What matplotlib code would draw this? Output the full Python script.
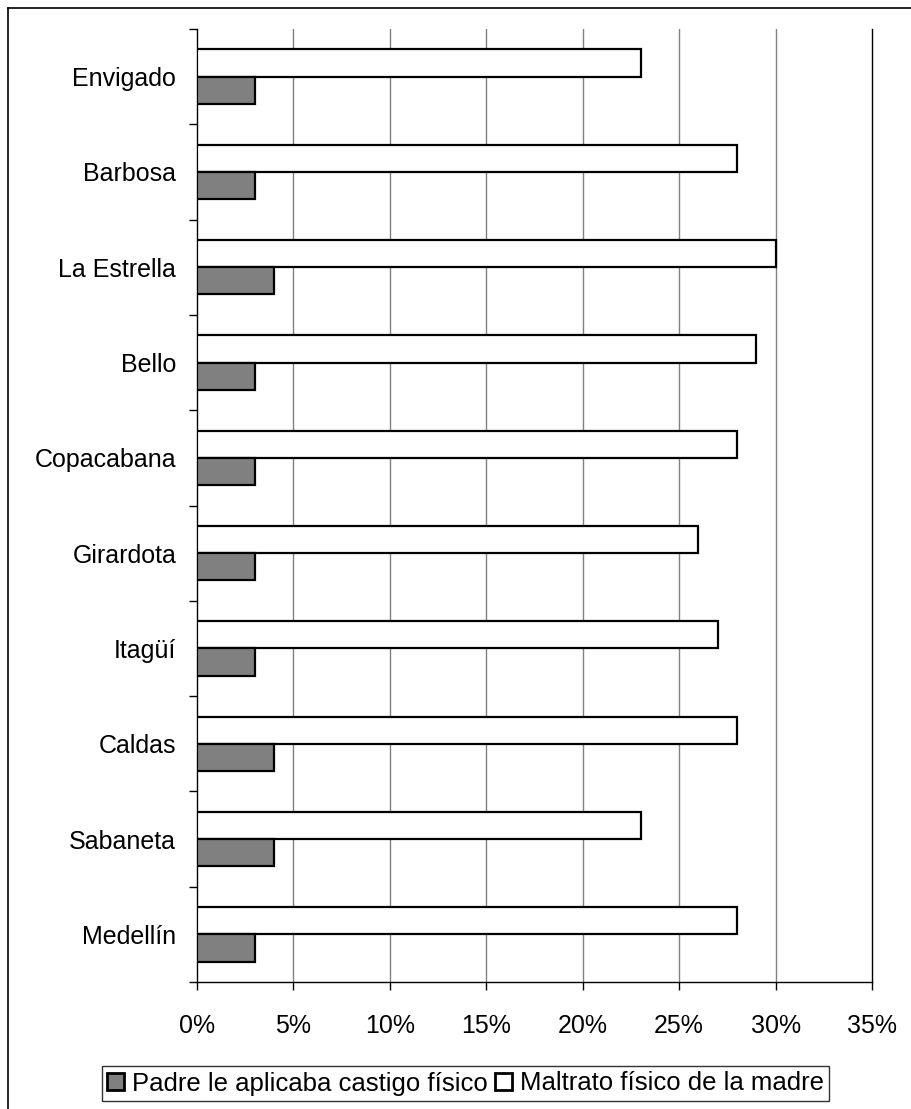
import matplotlib
matplotlib.use("Agg")
import matplotlib.pyplot as plt
from matplotlib.lines import Line2D
from matplotlib.ticker import FuncFormatter
import numpy as np

plt.rcParams['font.family'] = ['Liberation Sans', 'DejaVu Sans']

categories = ["Medellín", "Sabaneta", "Caldas", "Itagüí", "Girardota",
              "Copacabana", "Bello", "La Estrella", "Barbosa", "Envigado"]
padre = [3, 4, 4, 3, 3, 3, 3, 4, 3, 3]
madre = [28, 23, 28, 27, 26, 28, 29, 30, 28, 23]
series_names = ["Padre le aplicaba castigo físico", "Maltrato físico de la madre"]
xticks = [0, 5, 10, 15, 20, 25, 30, 35]

W, H = 911, 1109
FS = 18
fig = plt.figure(figsize=(W / 100, H / 100), dpi=100)
ax = fig.add_axes([197 / W, 1 - 982 / H, (872 - 197) / W, (982 - 29) / H])

y = np.arange(len(categories))
h = 1 / 3.5
ax.barh(y + h / 2, madre, height=h, color="white", edgecolor="black", linewidth=1.6,
        label=series_names[1], zorder=3)
ax.barh(y - h / 2, padre, height=h, color="#808080", edgecolor="black", linewidth=1.6,
        label=series_names[0], zorder=3)

ax.set_xlim(0, 35)
ax.set_ylim(-0.5, len(categories) - 0.5)

ax.set_xticks(xticks)
ax.xaxis.set_major_formatter(FuncFormatter(lambda v, p: f"{int(v)}%"))
ax.tick_params(axis='x', direction='out', length=6, width=1, labelsize=FS, pad=17)

ax.set_yticks(y)
ax.set_yticklabels(categories)
ax.tick_params(axis='y', which='major', length=0, labelsize=FS, pad=15)
ax.set_yticks(np.arange(-0.5, len(categories), 1), minor=True)
ax.tick_params(axis='y', which='minor', direction='out', length=6, width=1)

for xv in xticks[1:-1]:
    ax.axvline(xv, color="#808080", linewidth=1.0, zorder=1)

ax.spines["top"].set_visible(False)
ax.spines["right"].set_color("black")
ax.spines["right"].set_linewidth(1.0)
ax.spines["left"].set_linewidth(1.0)
ax.spines["bottom"].set_linewidth(1.0)

handles, labels = ax.get_legend_handles_labels()
leg = fig.legend(handles[::-1], labels[::-1], loc="center",
                 bbox_to_anchor=(465.5 / W, 1 - 1083.5 / H), ncol=2, fontsize=18.5,
                 frameon=True, fancybox=False, edgecolor="black", handlelength=0.65,
                 handleheight=0.65, handletextpad=0.32, columnspacing=0.3,
                 borderpad=0.2, borderaxespad=0)
leg.get_frame().set_linewidth(1.0)
for p in leg.get_patches():
    p.set_linewidth(2.0)

# outer chart border (top and left visible)
fig.add_artist(Line2D([8 / W, 8 / W], [0, 1 - 8 / H], transform=fig.transFigure,
                      color="black", linewidth=1.2))
fig.add_artist(Line2D([8 / W, 1], [1 - 8 / H, 1 - 8 / H], transform=fig.transFigure,
                      color="black", linewidth=1.2))

fig.savefig("out.png", dpi=100)
